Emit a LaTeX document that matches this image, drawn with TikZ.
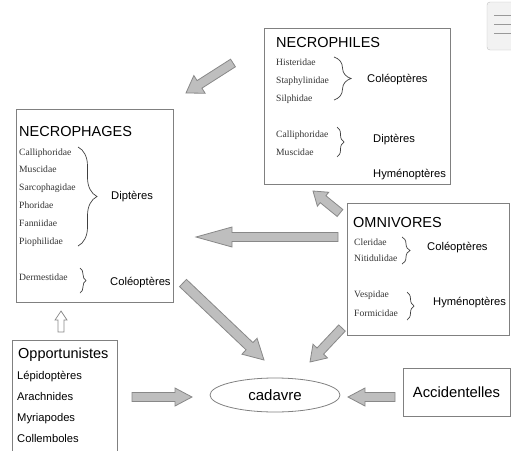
\documentclass[tikz,border=0pt]{standalone}
\usepackage{fontspec}
\setmainfont{Liberation Serif}
\setsansfont{Liberation Sans}
\usetikzlibrary{calc,shapes.geometric,decorations.pathreplacing}

\definecolor{boxline}{HTML}{808080}
\definecolor{arrowfill}{HTML}{BEBEBE}
\definecolor{arrowline}{HTML}{888888}

\tikzset{
  box/.style={draw=boxline, line width=0.9pt, rectangle, inner sep=0pt},
  title/.style={anchor=base west, inner sep=0pt, font=\sffamily\fontsize{14.5}{16}\selectfont},
  order/.style={anchor=base west, inner sep=0pt, font=\sffamily\fontsize{11.2}{13}\selectfont},
  family/.style={anchor=base west, inner sep=0pt, text=black!80, font=\rmfamily\fontsize{9.6}{11}\selectfont},
  grouping/.style={decorate, decoration={brace, amplitude=#1}, draw=black!75, line width=0.7pt},
  grouping/.default=6,
  blockarrow/.style={fill=arrowfill, draw=arrowline, line width=0.8pt, line join=miter},
  hollowarrow/.style={fill=white, draw=arrowline, line width=0.7pt},
}

% fat arrow: [style]{tail}{tip}{half shaft}{half head}{head length}
\newcommand{\fatarrow}[6][blockarrow]{%
  \draw[#1] let \p1=(#2), \p2=(#3),
      \n1={atan2(\y2-\y1,\x2-\x1)}, \n2={veclen(\x2-\x1,\y2-\y1)} in
    ([shift={(\p1)},rotate=\n1]0pt,-#4pt)
    -- ([shift={(\p1)},rotate=\n1]\n2-#6pt,-#4pt)
    -- ([shift={(\p1)},rotate=\n1]\n2-#6pt,-#5pt)
    -- ([shift={(\p1)},rotate=\n1]\n2,0pt)
    -- ([shift={(\p1)},rotate=\n1]\n2-#6pt,#5pt)
    -- ([shift={(\p1)},rotate=\n1]\n2-#6pt,#4pt)
    -- ([shift={(\p1)},rotate=\n1]0pt,#4pt) -- cycle;}

\begin{document}
\begin{tikzpicture}[x=1pt, y=-1pt]
    \useasboundingbox (0,0) rectangle (511,450);
    \clip (0,0) rectangle (511,450);

    % menu icon in the corner
    \draw[rounded corners=3, fill=black!5, draw=black!25] (487,2) rectangle (522,50);
    \foreach \y in {15,24,33}
        \draw[black!40, line width=0.9pt] (494,\y) -- (511,\y);

    % boxes
    \node[box, minimum width=157, minimum height=193] (phages) at (94.5,205.5) {};
    \node[box, minimum width=186, minimum height=156] (philes) at (357,106) {};
    \node[box, minimum width=162, minimum height=132] (omni) at (428,269) {};
    \node[box, minimum width=105, minimum height=130] (opport) at (64.5,405) {};
    \node[box, minimum width=107, minimum height=48, font=\sffamily\fontsize{14.8}{16}\selectfont] (accid) at (456.5,392) {Accidentelles};
    \node[ellipse, draw=boxline, line width=0.8pt, minimum width=130, minimum height=34, inner sep=0pt,
          font=\sffamily\fontsize{15}{17}\selectfont] (cadavre) at (275,395) {cadavre};

    % NECROPHAGES
    \node[title] (phages title) at (19,136) {NECROPHAGES};
    \foreach \name [count=\i] in {Calliphoridae,Muscidae,Sarcophagidae,Phoridae,Fanniidae,Piophilidae}
        \node[family] (phages fam\i) at (19,{137.1+17.9*\i}) {\name};
    \node[family] (phages derm) at (19,280) {Dermestidae};
    \draw[grouping=19] (78,147) -- (78,246);
    \draw[grouping=6] (80,268) -- (80,293);
    \node[order] (phages dipt) at (111,199) {Diptères};
    \node[order] (phages coleo) at (110,285) {Coléoptères};

    % NECROPHILES
    \node[title] (philes title) at (276,47) {NECROPHILES};
    \foreach \name [count=\i] in {Histeridae,Staphylinidae,Silphidae}
        \node[family] (philes fam\i) at (276,{47+18*\i}) {\name};
    \node[family] (philes call) at (276,137) {Calliphoridae};
    \node[family] (philes musc) at (276,155) {Muscidae};
    \draw[grouping=17] (334,57) -- (334,100);
    \draw[grouping=7] (337,127) -- (337,157);
    \node[order] (philes coleo) at (367,82) {Coléoptères};
    \node[order] (philes dipt) at (373,142) {Diptères};
    \node[order] (philes hymeno) at (373,177) {Hyménoptères};

    % OMNIVORES
    \node[title] (omni title) at (353,227) {OMNIVORES};
    \node[family] (omni cler) at (354,245) {Cleridae};
    \node[family] (omni niti) at (354,261) {Nitidulidae};
    \node[family] (omni vesp) at (354,297) {Vespidae};
    \node[family] (omni formi) at (354,316) {Formicidae};
    \draw[grouping=8] (402,237) -- (402,264);
    \draw[grouping=7] (407,292) -- (407,320);
    \node[order] (omni coleo) at (427,250) {Coléoptères};
    \node[order] (omni hymeno) at (433,305) {Hyménoptères};

    % Opportunistes
    \node[title] (opport title) at (18,358) {Opportunistes};
    \foreach \name [count=\i] in {Lépidoptères,Arachnides,Myriapodes,Collemboles}
        \node[order] (opport ord\i) at (17,{358+21*\i}) {\name};

    % arrow ends
    \coordinate (philes exit) at (233,63);
    \coordinate (phages entry) at (186,93);
    \coordinate (omni exit up) at (340,213);
    \coordinate (philes entry) at (313,191);
    \coordinate (omni exit left) at (338,237);
    \coordinate (phages entry right) at (196,237);
    \coordinate (phages exit) at (183,283);
    \coordinate (cadavre entry nw) at (264,360);
    \coordinate (omni exit down) at (342,328);
    \coordinate (cadavre entry ne) at (310,362);
    \coordinate (opport exit) at (132,397);
    \coordinate (cadavre entry w) at (192,397);
    \coordinate (accid exit) at (395,397);
    \coordinate (cadavre entry e) at (348,397);
    \coordinate (opport exit up) at (61,332);
    \coordinate (phages entry below) at (61,311);

    % arrows
    \fatarrow{philes exit}{phages entry}{4.5}{10.5}{16}
    \fatarrow{omni exit up}{philes entry}{4.5}{9}{13}
    \fatarrow{omni exit left}{phages entry right}{4.5}{10}{36}
    \fatarrow{phages exit}{cadavre entry nw}{5}{11}{20}
    \fatarrow{omni exit down}{cadavre entry ne}{4.5}{10}{15}
    \fatarrow{opport exit}{cadavre entry w}{4.5}{9}{17}
    \fatarrow{accid exit}{cadavre entry e}{4.5}{9}{17}
    \fatarrow[hollowarrow]{opport exit up}{phages entry below}{3}{6}{9}
\end{tikzpicture}
\end{document}
